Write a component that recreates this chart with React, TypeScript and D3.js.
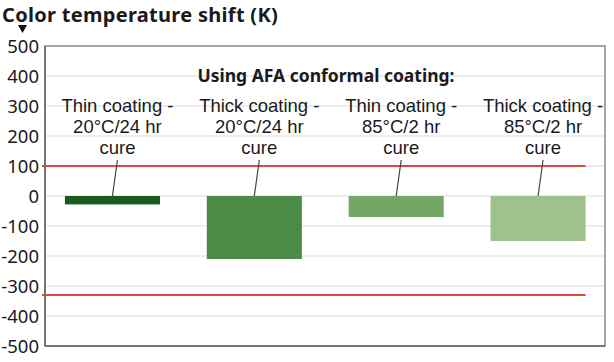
import React from "react";
import * as d3 from "d3";

// values
const categories = ["thin20", "thick20", "thin85", "thick85"];
const labelLine1 = ["Thin coating -", "Thick coating -", "Thin coating -", "Thick coating -"];
const labelLine2 = ["20°C/24 hr", "20°C/24 hr", "85°C/2 hr", "85°C/2 hr"];
const labelLine3 = ["cure", "cure", "cure", "cure"];
const shifts = [-28, -210, -70, -150];
const barColors = ["#1a5a1e", "#4b8b46", "#74a766", "#9fc18e"];
const yTicks = [500, 400, 300, 200, 100, 0, -100, -200, -300, -400, -500];
const limits = [100, -330];

const width = 614;
const height = 362;
const plotLeft = 45;
const plotRight = 605;
const plotTop = 46;
const plotBottom = 346;
const font = "'Noto Sans', sans-serif";
const labelFont = "'Liberation Sans', Arial, sans-serif";

export default function App() {
  const y = d3.scaleLinear().domain([-500, 500]).range([plotBottom, plotTop]);
  const x = d3.scaleBand().domain(categories).range([41.5, 609]).paddingInner(0.33).paddingOuter(0.165);
  const y0 = y(0);
  const lastBarRight = (x(categories[categories.length - 1]) || 0) + x.bandwidth();

  return (
    <svg width={width} height={height} style={{ position: "absolute", left: 0, top: 0, background: "#fff" }}>
      {/* gridlines */}
      {yTicks.filter(t => t !== 500 && t !== -500).map(t => (
        <line key={"g" + t} x1={plotLeft} x2={plotRight} y1={y(t)} y2={y(t)} stroke="#e6e6e6" strokeWidth={1.5} />
      ))}

      {/* frame */}
      <rect x={plotLeft} y={plotTop} width={plotRight - plotLeft} height={plotBottom - plotTop}
        fill="none" stroke="#8a8a8a" strokeWidth={1.5} />
      <line x1={plotLeft} x2={plotLeft} y1={plotTop} y2={plotBottom} stroke="#666" strokeWidth={1.5} />
      <line x1={plotLeft} x2={plotRight} y1={plotBottom} y2={plotBottom} stroke="#666" strokeWidth={1.5} />

      {/* tick labels */}
      {yTicks.map(t => (
        <text key={"t" + t} x={39} y={y(t)} dy="0.36em" textAnchor="end"
          fontFamily={font} fontSize={18.5} fill="#1a1a1a">
          {t < 0 ? "-" + Math.abs(t) : String(t)}
        </text>
      ))}

      {/* red limit lines */}
      {limits.map(l => (
        <line key={"l" + l} x1={plotLeft - 3} x2={lastBarRight} y1={y(l)} y2={y(l)} stroke="#e0473c" strokeWidth={2} />
      ))}

      {/* bars */}
      {categories.map((c, i) => (
        <rect key={c} x={x(c)} width={x.bandwidth()} y={y(Math.max(0, shifts[i]))}
          height={Math.abs(y(shifts[i]) - y0)} fill={barColors[i]} />
      ))}

      {/* leader lines */}
      {categories.map(c => {
        const cx = (x(c) || 0) + x.bandwidth() / 2;
        return <line key={"ld" + c} x1={cx + 5} y1={160} x2={cx} y2={y0} stroke="#444" strokeWidth={1.2} />;
      })}

      {/* category labels */}
      {categories.map((c, i) => {
        const cx = (x(c) || 0) + x.bandwidth() / 2 + 5;
        return (
          <text key={"lb" + c} x={cx} textAnchor="middle" fontFamily={labelFont} fontSize={18.5} fill="#1a1a1a">
            <tspan x={cx} y={112}>{labelLine1[i]}</tspan>
            <tspan x={cx} y={133}>{labelLine2[i]}</tspan>
            <tspan x={cx} y={154}>{labelLine3[i]}</tspan>
          </text>
        );
      })}

      <text x={326} y={82} textAnchor="middle" fontFamily={font} fontWeight="bold" fontSize={17.5} fill="#1a1a1a">
        Using AFA conformal coating:
      </text>

      {/* axis title */}
      <text x={2} y={21.5} fontFamily={font} fontWeight="bold" fontSize={20} letterSpacing={0.3} fill="#1a1a1a">
        Color temperature shift (K)
      </text>
      <path d="M18,25 L27,25 L22.5,33 Z" fill="#111" />
    </svg>
  );
}
